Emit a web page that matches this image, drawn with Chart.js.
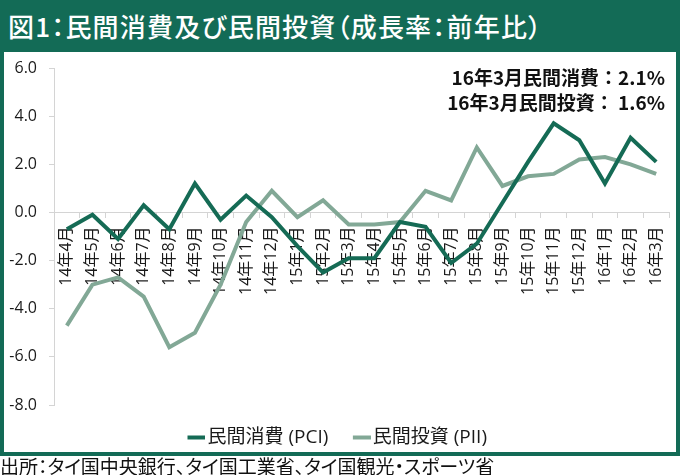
<!DOCTYPE html>
<html lang="ja">
<head>
<meta charset="utf-8">
<script src="https://cdn.jsdelivr.net/npm/chart.js@4/dist/chart.umd.min.js"></script>
<style>
    body { margin: 0; background: #fff; width: 680px; height: 475px; overflow: hidden; position: relative; }
    #frame {
        position: absolute; left: 0; top: 0; width: 680px; height: 456px;
        box-sizing: border-box; border: 4px solid #136b56; background: #fff;
    }
    #title {
        position: absolute; left: 0; top: 0; width: 680px; height: 52px;
        background: #136b56; color: #fff;
        font-family: "Noto Sans CJK JP", sans-serif; font-weight: 500;
        font-size: 26px; line-height: 52px; letter-spacing: 1.2px;
        padding-left: 8px; box-sizing: border-box;
        font-feature-settings: "palt";
    }
    #chartBox { position: absolute; left: 4px; top: 52px; }
    #source {
        position: absolute; left: 0; top: 454px;
        font-family: "Noto Sans CJK JP", sans-serif; font-size: 19px; line-height: 23px;
        color: #111; font-feature-settings: "palt"; white-space: nowrap;
    }
</style>
</head>
<body>
<div id="frame"></div>
<div id="title">図1：民間消費及び民間投資（成長率：前年比）</div>
<div id="chartBox"><canvas id="chart" width="672" height="405"></canvas></div>
<div id="source">出所：タイ国中央銀行、タイ国工業省、タイ国観光・スポーツ省</div>

<script>
const months = [
    "14年4月", "14年5月", "14年6月", "14年7月", "14年8月", "14年9月",
    "14年10月", "14年11月", "14年12月", "15年1月", "15年2月", "15年3月",
    "15年4月", "15年5月", "15年6月", "15年7月", "15年8月", "15年9月",
    "15年10月", "15年11月", "15年12月", "16年1月", "16年2月", "16年3月"
];

// 民間消費 (PCI), 前年比 %
const pci = [
    -0.7, -0.1, -1.1, 0.3, -0.7, 1.2,
    -0.3, 0.7, -0.2, -1.4, -2.5, -1.9,
    -1.9, -0.4, -0.6, -2.1, -1.3, 0.4,
    2.1, 3.7, 3.0, 1.2, 3.1, 2.1
];

// 民間投資 (PII), 前年比 %
const pii = [
    -4.7, -3.0, -2.7, -3.5, -5.6, -5.0,
    -3.0, -0.4, 0.9, -0.2, 0.5, -0.5,
    -0.5, -0.4, 0.9, 0.5, 2.7, 1.1,
    1.5, 1.6, 2.2, 2.3, 2.0, 1.6
];

const seriesNames = ["民間消費 (PCI)", "民間投資 (PII)"];
const notes = ["16年3月民間消費：2.1%", "16年3月民間投資： 1.6%"];

const yMin = -8;
const yMax = 6;
const yStep = 2;

const darkGreen = "#156b55";
const greyGreen = "#82a896";
const axisGrey = "#d4d4d4";
const tickFont = { family: "'Open Sans', 'Noto Sans CJK JP', sans-serif", size: 16 };
const legendFontSize = 19;
const legendBox = 12;

// legend swatch: a short thick line that sits right next to the label text
function makeSwatch(color) {
    const lineEnd = legendBox + legendFontSize / 2 - 2;
    const lineStart = lineEnd - 18;
    const center = legendBox / 2;
    const half = Math.max(center - lineStart, lineEnd - center);
    const c = document.createElement("canvas");
    c.width = Math.ceil(half * 2);
    c.height = 6;
    const ctx = c.getContext("2d");
    ctx.fillStyle = color;
    ctx.fillRect(lineStart - (center - half), 1, 18, 4);
    return c;
}

// latest values written in the top right corner
const notePlugin = {
    id: "notes",
    afterDraw(chart) {
        const ctx = chart.ctx;
        const area = chart.chartArea;
        ctx.save();
        ctx.font = "bold 19px 'Noto Sans CJK JP', sans-serif";
        ctx.fillStyle = "#111";
        ctx.textAlign = "right";
        ctx.textBaseline = "middle";
        notes.forEach((t, i) => ctx.fillText(t, area.right - 4, area.top + 10 + i * 24.5));
        ctx.restore();
    }
};

new Chart(document.getElementById("chart"), {
    type: "line",
    data: {
        labels: months,
        datasets: [{
            label: seriesNames[0],
            data: pci,
            borderColor: darkGreen,
            backgroundColor: darkGreen,
            borderWidth: 4,
            pointRadius: 0,
            pointStyle: makeSwatch(darkGreen),
            tension: 0
        }, {
            label: seriesNames[1],
            data: pii,
            borderColor: greyGreen,
            backgroundColor: greyGreen,
            borderWidth: 4,
            pointRadius: 0,
            pointStyle: makeSwatch(greyGreen),
            tension: 0
        }]
    },
    options: {
        responsive: false,
        animation: false,
        layout: { padding: { top: 16, right: 7, left: 0, bottom: 0 } },
        scales: {
            x: {
                position: { y: 0 },
                offset: true,
                afterFit(scale) { scale.paddingLeft = 0; scale.paddingRight = 0; },
                grid: { offset: true, drawOnChartArea: false, drawTicks: true, tickLength: 5, color: axisGrey },
                border: { color: axisGrey },
                ticks: {
                    autoSkip: false,
                    maxRotation: 90,
                    minRotation: 90,
                    padding: 9,
                    color: "#1a1a1a",
                    font: tickFont
                }
            },
            y: {
                min: yMin,
                max: yMax,
                afterFit(scale) { scale.width = 50; scale.paddingTop = 0; scale.paddingBottom = 0; },
                grid: { drawOnChartArea: false, drawTicks: true, tickLength: 5, color: axisGrey },
                border: { color: axisGrey },
                ticks: {
                    stepSize: yStep,
                    padding: 12,
                    color: "#1a1a1a",
                    font: tickFont,
                    callback: value => value.toFixed(1)
                }
            }
        },
        plugins: {
            legend: {
                position: "bottom",
                labels: {
                    usePointStyle: true,
                    pointStyleWidth: legendBox,
                    padding: 23,
                    color: "#1a1a1a",
                    font: { family: "'Open Sans', 'Noto Sans CJK JP', sans-serif", size: legendFontSize }
                }
            },
            tooltip: { enabled: false }
        }
    },
    plugins: [notePlugin]
});
</script>
</body>
</html>
